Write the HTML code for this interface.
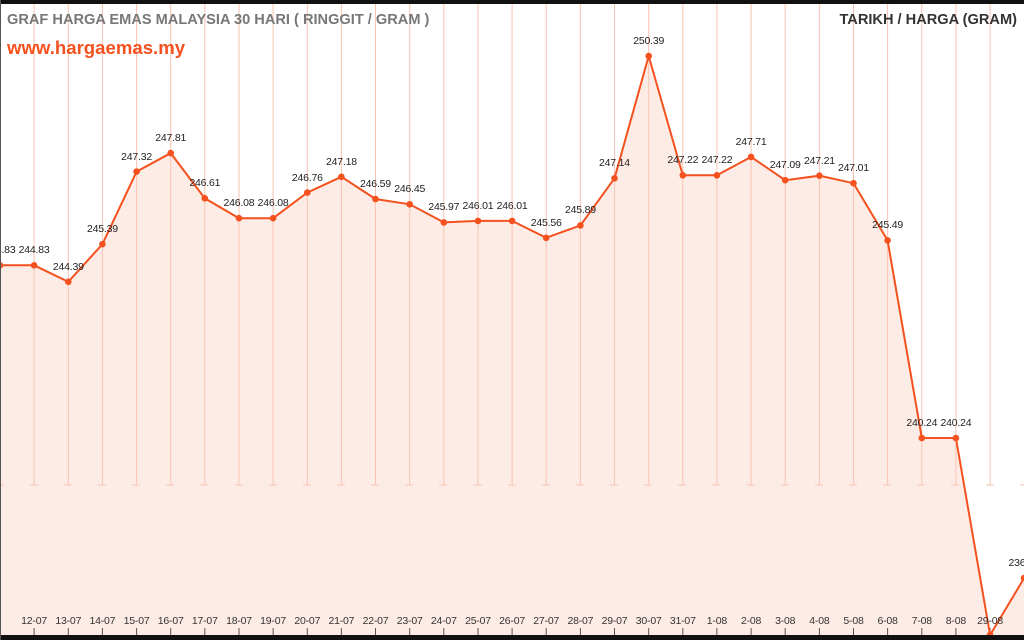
<!DOCTYPE html>
<html><head><meta charset="utf-8"><style>
html,body{margin:0;padding:0;width:1024px;height:640px;overflow:hidden;background:#fff}
svg{display:block}
text{font-family:"Liberation Sans",sans-serif}
</style></head><body>
<svg width="1024" height="640" viewBox="0 0 1024 640">
<rect width="1024" height="640" fill="#fff"/>
<polygon fill="#fdece6" points="0,265.3 34.1,265.3 68.3,281.8 102.4,244.2 136.6,171.6 170.7,153.1 204.8,198.3 239,218.2 273.1,218.2 307.3,192.6 341.4,176.8 375.5,199 409.7,204.3 443.8,222.4 478,220.9 512.1,220.9 546.2,237.8 580.4,225.4 614.5,178.3 648.7,56 682.8,175.3 716.9,175.3 751.1,156.9 785.2,180.2 819.4,175.7 853.5,183.2 887.6,240.4 921.8,438 955.9,438 990.1,635 1024.2,578 1024,640 0,640"/>
<g stroke="#f9c3b1" stroke-width="1">
<path d="M34.1 4V485M68.3 4V485M102.4 4V485M136.6 4V485M170.7 4V485M204.8 4V485M239 4V485M273.1 4V485M307.3 4V485M341.4 4V485M375.5 4V485M409.7 4V485M443.8 4V485M478 4V485M512.1 4V485M546.2 4V485M580.4 4V485M614.5 4V485M648.7 4V485M682.8 4V485M716.9 4V485M751.1 4V485M785.2 4V485M819.4 4V485M853.5 4V485M887.6 4V485M921.8 4V485M955.9 4V485M990.1 4V485"/>
<path d="M0 485H4M30 485H38M64 485H72M98 485H106M132 485H140M166 485H174M200 485H208M235 485H243M269 485H277M303 485H311M337 485H345M371 485H379M405 485H413M439 485H447M474 485H482M508 485H516M542 485H550M576 485H584M610 485H618M644 485H652M678 485H686M712 485H720M747 485H755M781 485H789M815 485H823M849 485H857M883 485H891M917 485H925M951 485H959M986 485H994M1020 485H1024"/>
</g>
<g stroke="#555" stroke-width="1"><path d="M34.1 628V635M68.3 628V635M102.4 628V635M136.6 628V635M170.7 628V635M204.8 628V635M239 628V635M273.1 628V635M307.3 628V635M341.4 628V635M375.5 628V635M409.7 628V635M443.8 628V635M478 628V635M512.1 628V635M546.2 628V635M580.4 628V635M614.5 628V635M648.7 628V635M682.8 628V635M716.9 628V635M751.1 628V635M785.2 628V635M819.4 628V635M853.5 628V635M887.6 628V635M921.8 628V635M955.9 628V635M990.1 628V635"/></g>
<polyline fill="none" stroke="#f4511e" stroke-width="2" points="0,265.3 34.1,265.3 68.3,281.8 102.4,244.2 136.6,171.6 170.7,153.1 204.8,198.3 239,218.2 273.1,218.2 307.3,192.6 341.4,176.8 375.5,199 409.7,204.3 443.8,222.4 478,220.9 512.1,220.9 546.2,237.8 580.4,225.4 614.5,178.3 648.7,56 682.8,175.3 716.9,175.3 751.1,156.9 785.2,180.2 819.4,175.7 853.5,183.2 887.6,240.4 921.8,438 955.9,438 990.1,635 1024.2,578"/>
<g fill="#f4511e">
<circle cx="0" cy="265.3" r="3.3"/><circle cx="34.1" cy="265.3" r="3.3"/><circle cx="68.3" cy="281.8" r="3.3"/><circle cx="102.4" cy="244.2" r="3.3"/><circle cx="136.6" cy="171.6" r="3.3"/><circle cx="170.7" cy="153.1" r="3.3"/><circle cx="204.8" cy="198.3" r="3.3"/><circle cx="239" cy="218.2" r="3.3"/><circle cx="273.1" cy="218.2" r="3.3"/><circle cx="307.3" cy="192.6" r="3.3"/><circle cx="341.4" cy="176.8" r="3.3"/><circle cx="375.5" cy="199" r="3.3"/><circle cx="409.7" cy="204.3" r="3.3"/><circle cx="443.8" cy="222.4" r="3.3"/><circle cx="478" cy="220.9" r="3.3"/><circle cx="512.1" cy="220.9" r="3.3"/><circle cx="546.2" cy="237.8" r="3.3"/><circle cx="580.4" cy="225.4" r="3.3"/><circle cx="614.5" cy="178.3" r="3.3"/><circle cx="648.7" cy="56" r="3.3"/><circle cx="682.8" cy="175.3" r="3.3"/><circle cx="716.9" cy="175.3" r="3.3"/><circle cx="751.1" cy="156.9" r="3.3"/><circle cx="785.2" cy="180.2" r="3.3"/><circle cx="819.4" cy="175.7" r="3.3"/><circle cx="853.5" cy="183.2" r="3.3"/><circle cx="887.6" cy="240.4" r="3.3"/><circle cx="921.8" cy="438" r="3.3"/><circle cx="955.9" cy="438" r="3.3"/><circle cx="990.1" cy="635" r="3.3"/><circle cx="1024" cy="578" r="3.3"/>
</g>
<g font-size="10.5" fill="#222" text-anchor="middle" letter-spacing="-0.2">
<text x="0" y="253">244.83</text><text x="34.1" y="253">244.83</text><text x="68.3" y="270">244.39</text><text x="102.4" y="232">245.39</text><text x="136.6" y="160">247.32</text><text x="170.7" y="141">247.81</text><text x="204.8" y="186">246.61</text><text x="239" y="206">246.08</text><text x="273.1" y="206">246.08</text><text x="307.3" y="181">246.76</text><text x="341.4" y="165">247.18</text><text x="375.5" y="187">246.59</text><text x="409.7" y="192">246.45</text><text x="443.8" y="210">245.97</text><text x="478" y="209">246.01</text><text x="512.1" y="209">246.01</text><text x="546.2" y="226">245.56</text><text x="580.4" y="213">245.89</text><text x="614.5" y="166">247.14</text><text x="648.7" y="44">250.39</text><text x="682.8" y="163">247.22</text><text x="716.9" y="163">247.22</text><text x="751.1" y="145">247.71</text><text x="785.2" y="168">247.09</text><text x="819.4" y="164">247.21</text><text x="853.5" y="171">247.01</text><text x="887.6" y="228">245.49</text><text x="921.8" y="426">240.24</text><text x="955.9" y="426">240.24</text><text x="1024" y="566">236.52</text>
</g>
<g font-size="10.5" fill="#333" text-anchor="middle" letter-spacing="-0.2">
<text x="34.1" y="624">12-07</text><text x="68.3" y="624">13-07</text><text x="102.4" y="624">14-07</text><text x="136.6" y="624">15-07</text><text x="170.7" y="624">16-07</text><text x="204.8" y="624">17-07</text><text x="239" y="624">18-07</text><text x="273.1" y="624">19-07</text><text x="307.3" y="624">20-07</text><text x="341.4" y="624">21-07</text><text x="375.5" y="624">22-07</text><text x="409.7" y="624">23-07</text><text x="443.8" y="624">24-07</text><text x="478" y="624">25-07</text><text x="512.1" y="624">26-07</text><text x="546.2" y="624">27-07</text><text x="580.4" y="624">28-07</text><text x="614.5" y="624">29-07</text><text x="648.7" y="624">30-07</text><text x="682.8" y="624">31-07</text><text x="716.9" y="624">1-08</text><text x="751.1" y="624">2-08</text><text x="785.2" y="624">3-08</text><text x="819.4" y="624">4-08</text><text x="853.5" y="624">5-08</text><text x="887.6" y="624">6-08</text><text x="921.8" y="624">7-08</text><text x="955.9" y="624">8-08</text><text x="990.1" y="624">29-08</text>
</g>
<rect x="0" y="0" width="1024" height="4" fill="#111"/>
<rect x="0" y="635" width="1024" height="5" fill="#111"/>
<rect x="0" y="0" width="1" height="640" fill="#555"/>
<text x="7" y="24" font-size="14.6" font-weight="bold" fill="#777">GRAF HARGA EMAS MALAYSIA 30 HARI ( RINGGIT / GRAM )</text>
<text x="7" y="54" font-size="18.6" font-weight="bold" fill="#f4511e">www.hargaemas.my</text>
<text x="1017" y="24" font-size="14.6" font-weight="bold" fill="#333" text-anchor="end">TARIKH / HARGA (GRAM)</text>
</svg>
</body></html>
